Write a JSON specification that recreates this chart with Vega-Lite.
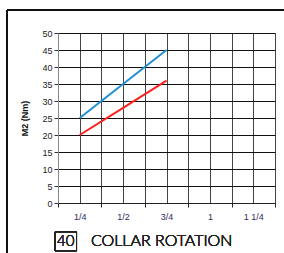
{
  "$schema": "https://vega.github.io/schema/vega-lite/v6.json",
  "width": 217,
  "height": 170,
  "autosize": {"type": "none"},
  "padding": {"left": 58, "top": 33, "right": 9, "bottom": 50},
  "background": "white",
  "config": {
    "view": {"stroke": "#999999", "strokeWidth": 1},
    "font": "Liberation Sans"
  },
  "data": {
    "values": [
      {"turns": 0.25, "m2": 25, "series": "A"},
      {"turns": 0.5, "m2": 35, "series": "A"},
      {"turns": 0.75, "m2": 45, "series": "A"},
      {"turns": 0.25, "m2": 20, "series": "B"},
      {"turns": 0.5, "m2": 28, "series": "B"},
      {"turns": 0.75, "m2": 36, "series": "B"}
    ]
  },
  "resolve": {"axis": {"x": "independent", "y": "independent"}},
  "layer": [
    {
      "mark": {"type": "line", "strokeWidth": 2},
      "encoding": {
        "x": {
          "field": "turns",
          "type": "quantitative",
          "scale": {"domain": [0.125, 1.375], "nice": false, "zero": false},
          "axis": {
            "title": null,
            "values": [0.125, 0.25, 0.375, 0.5, 0.625, 0.75, 0.875, 1, 1.125, 1.25, 1.375],
            "labelExpr": "datum.value == 0.25 ? '1/4' : datum.value == 0.5 ? '1/2' : datum.value == 0.75 ? '3/4' : datum.value == 1 ? '1' : datum.value == 1.25 ? '1 1/4' : ''",
            "labelOverlap": false,
            "labelBound": false,
            "labelFlush": false,
            "labelFontSize": 9,
            "labelColor": "#2e2a5c",
            "labelPadding": 5,
            "tickSize": 4,
            "tickColor": "#222222",
            "tickOpacity": {"condition": {"test": "(datum.value / 0.125) % 2 == 1", "value": 1}, "value": 0},
            "grid": true,
            "gridColor": "#444444",
            "gridWidth": 1,
            "domainColor": "#222222"
          }
        },
        "y": {
          "field": "m2",
          "type": "quantitative",
          "scale": {"domain": [0, 50], "nice": false},
          "axis": {
            "title": "M2 (Nm)",
            "titleFontSize": 9,
            "titleFontWeight": "bold",
            "titleColor": "#111111",
            "titlePadding": 12,
            "values": [0, 5, 10, 15, 20, 25, 30, 35, 40, 45, 50],
            "labelFontSize": 9,
            "labelColor": "#222222",
            "labelPadding": 2,
            "tickSize": 4,
            "tickColor": "#333333",
            "grid": true,
            "gridColor": "#111111",
            "gridWidth": 1,
            "domainColor": "#888888"
          }
        },
        "color": {
          "field": "series",
          "type": "nominal",
          "scale": {"domain": ["A", "B"], "range": ["#1e8fd5", "#ff1f1f"]},
          "legend": null
        }
      }
    },
    {
      "mark": {"type": "rule", "color": "#111111", "strokeWidth": 1.5},
      "encoding": {
        "x": {"datum": -0.169, "axis": null},
        "x2": {"datum": 1.5},
        "y": {"datum": 56.8, "axis": null}
      }
    },
    {
      "mark": {"type": "rule", "color": "#111111", "strokeWidth": 1.5},
      "encoding": {
        "x": {"datum": -0.169, "axis": null},
        "y": {"datum": 56.8, "axis": null},
        "y2": {"datum": -17}
      }
    },
    {
      "mark": {"type": "rect", "fill": null, "stroke": "#222222", "strokeWidth": 1},
      "encoding": {
        "x": {"datum": 0.1077, "axis": null},
        "x2": {"datum": 0.2318},
        "y": {"datum": -8.5, "axis": null},
        "y2": {"datum": -14.1}
      }
    },
    {
      "mark": {"type": "text", "font": "Lato", "fontSize": 15, "fontWeight": 300, "fill": "#222222", "stroke": null, "align": "center", "baseline": "middle"},
      "encoding": {
        "x": {"datum": 0.17, "axis": null},
        "y": {"datum": -11.3, "axis": null},
        "text": {"value": "40"}
      }
    },
    {
      "mark": {"type": "text", "font": "Lato", "fontSize": 16, "fontWeight": 300, "fill": "#222222", "stroke": null, "align": "left", "baseline": "middle"},
      "encoding": {
        "x": {"datum": 0.315, "axis": null},
        "y": {"datum": -11.3, "axis": null},
        "text": {"value": "COLLAR ROTATION"}
      }
    }
  ]
}
